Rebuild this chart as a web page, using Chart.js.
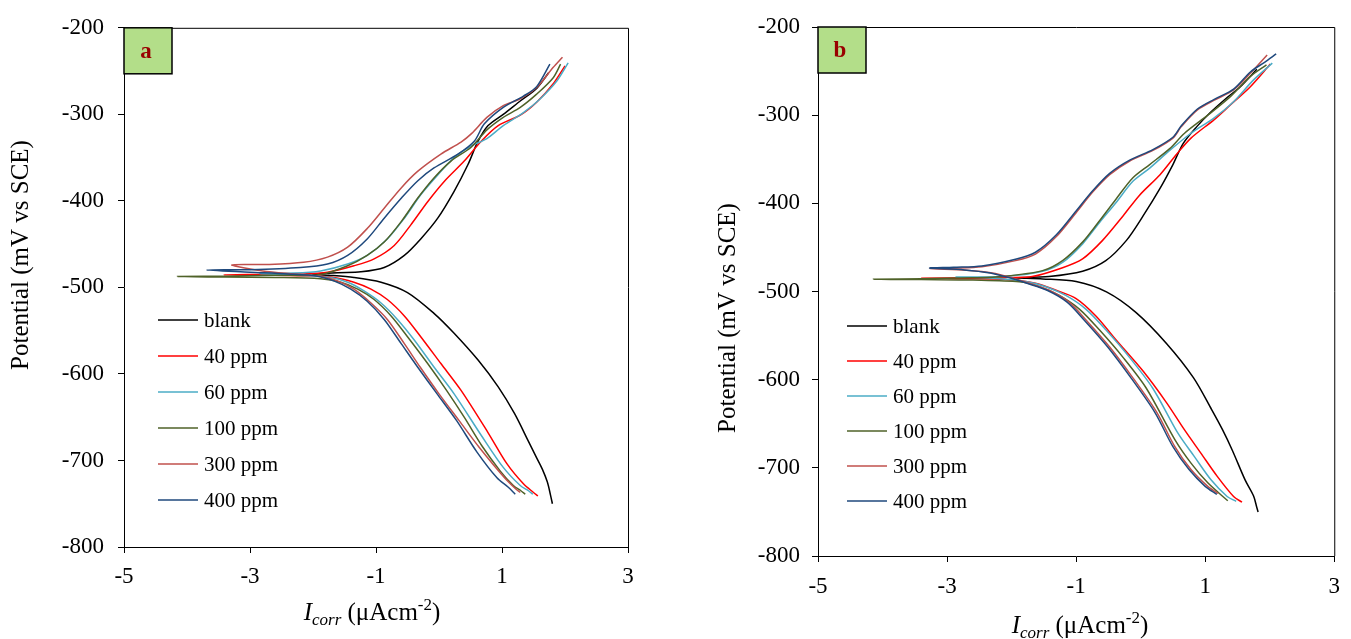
<!DOCTYPE html>
<html>
<head>
<meta charset="utf-8">
<script src="https://cdn.jsdelivr.net/npm/chart.js@4.4.1/dist/chart.umd.min.js"></script>
<style>
  html, body { margin: 0; padding: 0; background: #fff; }
  body { width: 1351px; height: 639px; position: relative; overflow: hidden; }
  .panel { position: absolute; top: 0; height: 639px; }
  #panelA { left: 0; width: 660px; }
  #panelB { left: 690px; width: 661px; }
</style>
</head>
<body>
<div class="panel" id="panelA"><canvas id="chartA"></canvas></div>
<div class="panel" id="panelB"><canvas id="chartB"></canvas></div>
<script>
// series names and colours (same for both panels)
const seriesLabels = ['blank', '40 ppm', '60 ppm', '100 ppm', '300 ppm', '400 ppm'];
const seriesColors = ['#000000', '#ff0000', '#4bacc6', '#4f6228', '#c0504d', '#1f497d'];

const xTicks = [-5, -3, -1, 1, 3];
const xTickLabels = ['-5', '-3', '-1', '1', '3'];
const yTicks = [-800, -700, -600, -500, -400, -300, -200];
const yTickLabels = ['-800', '-700', '-600', '-500', '-400', '-300', '-200'];

// panel a : log i (x) and potential mV (y), cathodic end -> Ecorr -> anodic end
const aBlankLogI = [1.80, 1.77, 1.72, 1.64, 1.55, 1.42, 1.20, 0.94, 0.62, 0.24, -0.08, -0.50, -0.92, -1.35, -1.75, -2.00, -1.61, -1.24, -0.87, -0.55, -0.29, -0.02, 0.24, 0.46, 0.62, 0.78, 1.02, 1.30, 1.55, 1.74];
const aBlankE    = [-750, -740, -725, -710, -697, -678, -646, -615, -584, -553, -530, -506, -494, -488.5, -486, -485, -483, -482, -477, -463, -444, -420, -389, -358, -331, -313, -300, -284, -270, -252];

const a40LogI = [1.57, 1.50, 1.34, 1.08, 0.78, 0.35, 0.03, -0.29, -0.55, -0.82, -1.08, -1.35, -1.67, -2.20, -2.80, -3.42, -2.80, -2.20, -1.77, -1.35, -1.03, -0.71, -0.45, -0.18, 0.09, 0.40, 0.67, 0.94, 1.29, 1.55, 1.81, 2.00];
const a40E    = [-741, -737, -727, -704, -668, -619, -588, -557, -533, -514, -502, -494, -488.5, -486.5, -486, -485.5, -485, -484.5, -482.5, -475, -467, -451.5, -428, -401, -377, -354, -331, -313, -301, -286, -265, -244];

const a60LogI = [1.49, 1.42, 1.29, 1.02, 0.68, 0.24, -0.08, -0.39, -0.66, -0.92, -1.19, -1.45, -1.72, -2.20, -2.84, -2.30, -1.88, -1.45, -1.14, -0.82, -0.55, -0.29, -0.02, 0.24, 0.50, 0.76, 1.02, 1.34, 1.60, 1.87, 2.05];
const a60E    = [-739, -735, -729, -708, -672, -623, -592, -561, -537, -518, -504, -494, -488.5, -486, -484, -483.5, -481, -473, -463, -444, -420, -393, -370, -350, -337, -328, -313, -298, -282.5, -261.5, -240.5];

const a100LogI = [1.37, 1.30, 1.18, 0.97, 0.68, 0.40, 0.12, -0.18, -0.50, -0.76, -1.03, -1.29, -1.56, -1.88, -2.60, -3.40, -4.15, -3.40, -2.60, -1.88, -1.45, -1.14, -0.87, -0.60, -0.34, -0.08, 0.19, 0.51, 0.76, 1.02, 1.29, 1.55, 1.81, 1.93];
const a100E    = [-739, -735, -729, -712, -683, -650, -619, -588, -557, -533, -514, -502, -494, -490, -488.5, -488, -487.5, -487, -486, -485, -475, -463, -447.6, -424, -397, -373.5, -354, -338, -318, -303.5, -292, -276.7, -258, -242];

const a300LogI = [1.29, 1.22, 1.04, 0.64, 0.32, 0.00, -0.30, -0.55, -0.82, -1.08, -1.35, -1.61, -1.88, -2.30, -2.80, -3.29, -2.70, -2.15, -1.77, -1.45, -1.14, -0.87, -0.60, -0.34, 0.03, 0.35, 0.52, 0.76, 1.02, 1.29, 1.55, 1.81, 1.96];
const a300E    = [-737, -733, -720, -685, -654, -623, -592, -565, -537, -518, -502, -492.5, -487, -484.5, -481, -474, -473.5, -471, -465, -453.5, -432, -408.5, -385, -366, -346, -332, -322, -303.5, -290, -282, -269, -246, -234];

const a400LogI = [1.21, 1.10, 0.92, 0.60, 0.28, -0.03, -0.34, -0.60, -0.87, -1.14, -1.40, -1.67, -1.93, -2.40, -3.00, -3.69, -3.00, -2.20, -1.77, -1.45, -1.14, -0.87, -0.60, -0.34, -0.08, 0.30, 0.56, 0.72, 1.02, 1.34, 1.55, 1.76];
const a400E    = [-739, -731, -720, -690, -654, -623, -592, -565, -537, -516, -502, -492.5, -487, -484.5, -482.5, -480, -479.5, -477, -473, -463, -444, -420, -397, -377, -362, -346, -331, -311, -292, -279, -268, -242];

// panel b
const bBlankLogI = [1.82, 1.80, 1.75, 1.62, 1.42, 1.27, 1.10, 0.82, 0.40, -0.07, -0.53, -1.00, -1.52, -1.94, -1.42, -0.90, -0.54, -0.22, 0.04, 0.30, 0.50, 0.66, 0.87, 1.08, 1.34, 1.54, 1.80];
const bBlankE    = [-750, -745, -732, -714, -680, -657, -634, -598, -559, -524, -500.5, -488.7, -485.7, -484.5, -483, -477, -465, -442, -414, -383, -356, -332, -313, -297, -280, -268, -248];

const b40LogI = [1.57, 1.44, 1.19, 0.93, 0.68, 0.40, 0.04, -0.38, -0.69, -1.00, -1.31, -1.63, -2.10, -2.70, -3.39, -2.70, -2.10, -1.68, -1.21, -0.90, -0.59, -0.27, -0.02, 0.30, 0.56, 0.78, 1.14, 1.39, 1.70, 2.01];
const b40E    = [-739, -732.5, -710, -683, -657, -626, -590.5, -555, -528, -508, -498.6, -490.7, -486.5, -485.5, -485, -484.5, -484, -483, -473, -463, -442, -414, -391, -367.5, -344, -326, -305, -288.4, -267.7, -242];

const b60LogI = [1.48, 1.34, 1.09, 0.83, 0.58, 0.19, -0.17, -0.54, -0.85, -1.16, -1.47, -1.78, -2.30, -2.86, -2.14, -1.52, -1.21, -0.90, -0.64, -0.38, -0.12, 0.14, 0.45, 0.78, 1.14, 1.44, 1.75, 2.04];
const b60E    = [-738, -732.5, -713.6, -687, -661, -610, -575, -543.5, -520, -504.5, -494.6, -488.7, -485, -483.5, -483, -477, -467, -446, -422, -399, -375, -360, -340, -320.5, -303, -284.7, -260, -241];

const b100LogI = [1.35, 1.04, 0.78, 0.53, 0.09, -0.27, -0.64, -0.95, -1.26, -1.57, -1.88, -2.60, -3.40, -4.14, -3.40, -2.60, -2.14, -1.52, -1.21, -0.90, -0.64, -0.38, -0.12, 0.14, 0.45, 0.68, 1.04, 1.39, 1.70, 1.95];
const b100E    = [-737.4, -717, -694.7, -668, -610, -575, -543.5, -520, -504.5, -494.6, -489, -487, -486.5, -486, -485.5, -484.5, -483, -476.3, -465, -444, -420, -395, -371, -356, -338, -320.5, -300, -279, -256, -243];

const b300LogI = [1.20, 1.04, 0.78, 0.53, 0.25, -0.12, -0.48, -0.85, -1.11, -1.42, -1.73, -2.00, -2.30, -2.70, -3.26, -2.90, -2.46, -1.94, -1.63, -1.31, -1.00, -0.74, -0.48, -0.17, 0.19, 0.50, 0.63, 0.88, 1.14, 1.44, 1.70, 1.96];
const b300E    = [-729, -721, -702, -676, -637, -598, -563, -532, -512, -498.6, -490.7, -484.5, -479, -476, -474, -473.5, -472, -465, -457.5, -438, -410.6, -387, -367.5, -352, -340, -326, -313, -294, -283, -271.4, -252.5, -231.7];

const b400LogI = [1.18, 1.00, 0.75, 0.50, 0.22, -0.15, -0.51, -0.88, -1.14, -1.45, -1.76, -2.03, -2.33, -2.73, -3.27, -2.90, -2.46, -1.94, -1.63, -1.31, -1.00, -0.74, -0.48, -0.17, 0.19, 0.50, 0.63, 0.88, 1.14, 1.44, 1.70, 1.92, 2.10];
const b400E    = [-730, -721, -702, -676, -637, -598, -563, -532, -512, -498.6, -490.7, -484.5, -479, -475.5, -473.5, -472.5, -471, -463.5, -455.5, -436, -408.6, -385.5, -366, -351, -339, -325, -312, -293, -282, -270.5, -251, -240, -230.6];

const FONT = '"Liberation Serif", "Times New Roman", serif';
Chart.defaults.font.family = FONT;
Chart.defaults.color = '#000';

function pts(xs, ys) {
  return xs.map((x, i) => ({ x: x, y: ys[i] }));
}

function makeDatasets(seriesList) {
  return seriesList.map((s, i) => ({
    label: seriesLabels[i],
    data: pts(s[0], s[1]),
    borderColor: seriesColors[i],
    backgroundColor: seriesColors[i],
    borderWidth: 1.5,
    pointRadius: 0,
    showLine: true,
    tension: 0.3,
    order: seriesList.length - i
  }));
}

// frame, panel letter, legend and axis titles
const decorPlugin = {
  id: 'decor',
  afterDraw(chart, args, opts) {
    const ctx = chart.ctx;
    const ca = chart.chartArea;
    ctx.save();
    // top and right of the box
    ctx.strokeStyle = '#000';
    ctx.lineWidth = 1;
    ctx.beginPath();
    ctx.moveTo(ca.left, ca.top + 0.5);
    ctx.lineTo(ca.right + 0.5, ca.top + 0.5);
    ctx.lineTo(ca.right + 0.5, ca.bottom);
    ctx.stroke();

    // panel letter
    ctx.fillStyle = '#b3de89';
    ctx.fillRect(ca.left, ca.top, 48, 46);
    ctx.lineWidth = 1.5;
    ctx.strokeRect(ca.left, ca.top, 48, 46);
    ctx.fillStyle = '#990000';
    ctx.font = 'bold 23px ' + FONT;
    ctx.textAlign = 'center';
    ctx.textBaseline = 'middle';
    ctx.fillText(opts.letter, ca.left + 22, ca.top + 24);

    // legend
    ctx.font = '21px ' + FONT;
    ctx.textAlign = 'left';
    ctx.lineWidth = 1.5;
    chart.data.datasets.forEach((ds, i) => {
      const y = opts.legendY + i * opts.legendStep;
      ctx.strokeStyle = ds.borderColor;
      ctx.beginPath();
      ctx.moveTo(opts.legendX, y);
      ctx.lineTo(opts.legendX + 40, y);
      ctx.stroke();
      ctx.fillStyle = '#000';
      ctx.fillText(ds.label, opts.legendX + 46, y + 1);
    });

    // y title
    ctx.save();
    ctx.translate(opts.yTitleX, opts.yTitleY);
    ctx.rotate(-Math.PI / 2);
    ctx.font = '25px ' + FONT;
    ctx.textAlign = 'center';
    ctx.textBaseline = 'middle';
    ctx.fillText('Potential (mV vs SCE)', 0, 0);
    ctx.restore();

    // x title: I_corr (µAcm^-2)
    const parts = [
      { t: 'I', f: 'italic 25px ' + FONT, dy: 0 },
      { t: 'corr', f: 'italic 17px ' + FONT, dy: 5 },
      { t: ' (\u03bcAcm', f: '25px ' + FONT, dy: 0 },
      { t: '-2', f: '17px ' + FONT, dy: -10 },
      { t: ')', f: '25px ' + FONT, dy: 0 }
    ];
    let w = 0;
    parts.forEach(p => { ctx.font = p.f; p.w = ctx.measureText(p.t).width; w += p.w; });
    let x = opts.xTitleX - w / 2;
    ctx.textAlign = 'left';
    ctx.textBaseline = 'alphabetic';
    ctx.fillStyle = '#000';
    parts.forEach(p => {
      ctx.font = p.f;
      ctx.fillText(p.t, x, opts.xTitleY + p.dy);
      x += p.w;
    });
    ctx.restore();
  }
};

function makeChart(canvasId, seriesList, cfg) {
  return new Chart(document.getElementById(canvasId), {
    type: 'scatter',
    data: { datasets: makeDatasets(seriesList) },
    options: {
      responsive: true,
      maintainAspectRatio: false,
      animation: false,
      layout: { padding: { top: cfg.top, right: cfg.right, left: 0, bottom: 0 } },
      plugins: {
        legend: { display: false },
        tooltip: { enabled: false },
        decor: cfg.decor
      },
      scales: {
        x: {
          type: 'linear',
          min: -5,
          max: 3,
          afterBuildTicks: (scale) => { scale.ticks = xTicks.map(v => ({ value: v })); },
          afterFit: (scale) => { scale.height = cfg.xHeight; },
          ticks: {
            autoSkip: false,
            maxRotation: 0,
            padding: cfg.xPad,
            font: { size: 23 },
            color: '#000',
            callback: (v, i) => xTickLabels[i]
          },
          grid: { drawOnChartArea: false, drawTicks: true, tickLength: 6, color: '#000' },
          border: { display: true, color: '#000', width: 1 }
        },
        y: {
          type: 'linear',
          min: -800,
          max: -200,
          afterBuildTicks: (scale) => { scale.ticks = yTicks.map(v => ({ value: v })); },
          afterFit: (scale) => { scale.width = cfg.yWidth; },
          ticks: {
            padding: cfg.yPad,
            font: { size: 23 },
            color: '#000',
            callback: (v, i) => yTickLabels[i]
          },
          grid: { drawOnChartArea: false, drawTicks: true, tickLength: 6, color: '#000' },
          border: { display: true, color: '#000', width: 1 }
        }
      }
    },
    plugins: [decorPlugin]
  });
}

makeChart('chartA', [
  [aBlankLogI, aBlankE], [a40LogI, a40E], [a60LogI, a60E],
  [a100LogI, a100E], [a300LogI, a300E], [a400LogI, a400E]
], {
  top: 23, right: 32, xHeight: 92, yWidth: 124, yPad: 14, xPad: 10,
  decor: { letter: 'a', legendX: 158, legendY: 320, legendStep: 36, yTitleX: 21, yTitleY: 255, xTitleX: 372, xTitleY: 620 }
});

makeChart('chartB', [
  [bBlankLogI, bBlankE], [b40LogI, b40E], [b60LogI, b60E],
  [b100LogI, b100E], [b300LogI, b300E], [b400LogI, b400E]
], {
  top: 27, right: 9, xHeight: 83, yWidth: 128, yPad: 12, xPad: 11,
  decor: { letter: 'b', legendX: 157, legendY: 326, legendStep: 35, yTitleX: 38, yTitleY: 318, xTitleX: 390, xTitleY: 633 }
});
</script>
</body>
</html>
